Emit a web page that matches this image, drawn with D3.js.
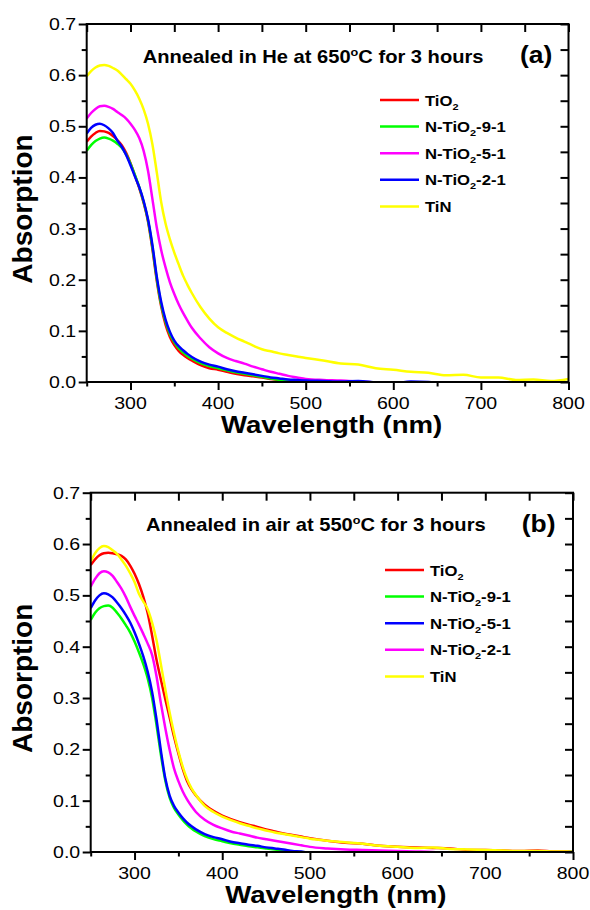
<!DOCTYPE html>
<html lang="en">
<head>
<meta charset="UTF-8">
<title>Absorption spectra of TiO2 / N-TiO2 / TiN</title>
<script src="https://d3js.org/d3.v7.min.js"></script>
<style>
  body { margin: 0; background: #fff; }
  svg { display: block; background: #fff; }
  text { font-family: "Liberation Sans", Arial, sans-serif; fill: #000; }
  .tick-label { font-size: 17px; }
  .axis-title { font-size: 24px; font-weight: bold; }
  .y-title { font-size: 28px; font-weight: bold; }
  .note { font-size: 17.5px; font-weight: bold; }
  .tag { font-size: 23px; font-weight: bold; }
  .legend { font-size: 14.5px; font-weight: bold; }
  .curve { fill: none; stroke-width: 2.5px; stroke-linejoin: round; }
  .tick line { stroke: #000; stroke-width: 2px; }
</style>
</head>
<body>
<svg width="590" height="910"></svg>
<script>
// wavelength grid (nm) shared by all spectra
const wavelengths = [
  250, 255, 260, 265, 270, 275, 280, 285, 290, 295, 300, 305, 310, 315, 320, 325, 330, 335, 340, 345, 350, 355, 360, 365, 370,
  380, 390, 400, 410, 420, 430, 440, 450, 460, 470, 480, 490, 500,
  520, 540, 560, 580, 600, 620, 640, 660, 680, 700, 720, 740, 760, 780, 800
];

const xMajor = [300, 400, 500, 600, 700, 800];
const xMinor = [250, 350, 450, 550, 650, 750];
const yMajor = [0, 0.1, 0.2, 0.3, 0.4, 0.5, 0.6, 0.7];
const yMinor = [0.05, 0.15, 0.25, 0.35, 0.45, 0.55, 0.65];

// (a) annealed in He at 650 C
const heTiO2 = [
  0.470, 0.480, 0.487, 0.491, 0.490, 0.487, 0.481, 0.473, 0.463, 0.448, 0.428, 0.404, 0.379, 0.350, 0.314, 0.260, 0.198, 0.148, 0.112, 0.088, 0.072, 0.061, 0.053, 0.047, 0.042,
  0.033, 0.027, 0.024, 0.020, 0.016, 0.013, 0.011, 0.009, 0.006, 0.004, 0.002, 0.001, -0.003,
  -0.003, -0.003, -0.003, -0.003, -0.003, -0.003, -0.003, -0.003, -0.003, -0.003, -0.003, -0.003, -0.003, -0.003, -0.003
];
const heN91 = [
  0.452, 0.463, 0.471, 0.476, 0.478, 0.476, 0.472, 0.466, 0.458, 0.445, 0.427, 0.405, 0.381, 0.352, 0.316, 0.264, 0.202, 0.152, 0.118, 0.094, 0.078, 0.066, 0.058, 0.051, 0.046,
  0.037, 0.031, 0.027, 0.023, 0.019, 0.016, 0.013, 0.010, 0.007, 0.004, 0.002, 0.000, -0.003,
  -0.003, -0.003, -0.003, -0.003, -0.003, -0.003, -0.003, -0.003, -0.003, -0.003, -0.003, -0.003, -0.003, -0.003, -0.003
];
const heN51 = [
  0.515, 0.526, 0.534, 0.539, 0.540, 0.538, 0.534, 0.528, 0.522, 0.515, 0.505, 0.493, 0.477, 0.452, 0.413, 0.358, 0.302, 0.258, 0.224, 0.195, 0.172, 0.152, 0.135, 0.120, 0.106,
  0.085, 0.068, 0.056, 0.047, 0.041, 0.036, 0.030, 0.025, 0.020, 0.016, 0.012, 0.009, 0.006,
  0.004, 0.003, 0.001, -0.001, -0.003, -0.003, -0.003, -0.003, -0.003, -0.003, -0.003, -0.003, -0.003, -0.003, -0.003
];
const heN21 = [
  0.486, 0.497, 0.503, 0.505, 0.502, 0.496, 0.487, 0.472, 0.460, 0.444, 0.424, 0.402, 0.381, 0.354, 0.318, 0.268, 0.206, 0.157, 0.122, 0.098, 0.081, 0.070, 0.062, 0.055, 0.049,
  0.040, 0.034, 0.030, 0.025, 0.021, 0.018, 0.015, 0.012, 0.009, 0.007, 0.005, 0.004, 0.003,
  0.002, 0.001, 0.002, -0.001, -0.003, 0.001, 0.000, -0.003, -0.003, -0.003, -0.003, -0.003, -0.003, -0.003, -0.003
];
const heTiN = [
  0.598, 0.608, 0.615, 0.619, 0.620, 0.618, 0.614, 0.609, 0.601, 0.592, 0.583, 0.570, 0.554, 0.533, 0.505, 0.465, 0.410, 0.352, 0.310, 0.279, 0.253, 0.230, 0.208, 0.190, 0.174,
  0.146, 0.124, 0.107, 0.096, 0.087, 0.079, 0.071, 0.064, 0.060, 0.056, 0.053, 0.050, 0.047,
  0.042, 0.036, 0.034, 0.027, 0.024, 0.020, 0.018, 0.013, 0.014, 0.009, 0.009, 0.004, 0.005, 0.002, 0.006
];

// (b) annealed in air at 550 C
const airTiO2 = [
  0.559, 0.570, 0.578, 0.582, 0.583, 0.582, 0.580, 0.577, 0.570, 0.558, 0.542, 0.522, 0.497, 0.465, 0.422, 0.375, 0.336, 0.298, 0.262, 0.225, 0.192, 0.162, 0.138, 0.122, 0.110,
  0.092, 0.080, 0.071, 0.064, 0.058, 0.053, 0.049, 0.044, 0.040, 0.036, 0.033, 0.030, 0.027,
  0.022, 0.018, 0.016, 0.012, 0.010, 0.009, 0.008, 0.007, 0.004, 0.004, 0.003, 0.002, 0.003, 0.001, 0.001
];
const airN91 = [
  0.452, 0.466, 0.475, 0.479, 0.480, 0.476, 0.466, 0.455, 0.442, 0.428, 0.410, 0.389, 0.366, 0.338, 0.300, 0.248, 0.190, 0.140, 0.106, 0.086, 0.073, 0.062, 0.053, 0.046, 0.040,
  0.031, 0.025, 0.021, 0.017, 0.014, 0.011, 0.009, 0.007, 0.005, 0.003, 0.001, 0.000, -0.003,
  -0.003, -0.003, -0.003, -0.003, -0.003, -0.003, -0.003, -0.003, -0.003, -0.003, -0.003, -0.003, -0.003, -0.003, -0.003
];
const airN51 = [
  0.475, 0.490, 0.500, 0.504, 0.502, 0.496, 0.486, 0.475, 0.462, 0.447, 0.428, 0.406, 0.381, 0.351, 0.312, 0.259, 0.198, 0.144, 0.110, 0.090, 0.077, 0.066, 0.057, 0.050, 0.044,
  0.035, 0.029, 0.025, 0.020, 0.017, 0.014, 0.012, 0.009, 0.007, 0.005, 0.002, 0.001, -0.002,
  -0.003, -0.003, -0.003, -0.003, -0.003, -0.003, -0.003, -0.003, -0.003, -0.003, -0.003, -0.003, -0.003, -0.003, 0.002
];
const airN21 = [
  0.517, 0.532, 0.543, 0.547, 0.545, 0.538, 0.526, 0.513, 0.497, 0.478, 0.460, 0.443, 0.425, 0.406, 0.384, 0.343, 0.290, 0.242, 0.199, 0.163, 0.138, 0.118, 0.102, 0.089, 0.078,
  0.063, 0.053, 0.046, 0.040, 0.036, 0.032, 0.028, 0.025, 0.022, 0.019, 0.016, 0.013, 0.010,
  0.007, 0.005, 0.004, 0.003, 0.002, 0.001, 0.000, -0.003, -0.003, -0.003, -0.003, -0.003, -0.003, -0.003, -0.003
];
const airTiN = [
  0.566, 0.582, 0.592, 0.596, 0.594, 0.588, 0.581, 0.570, 0.558, 0.543, 0.526, 0.503, 0.488, 0.473, 0.447, 0.413, 0.366, 0.318, 0.272, 0.232, 0.196, 0.166, 0.142, 0.124, 0.111,
  0.090, 0.078, 0.069, 0.062, 0.056, 0.051, 0.046, 0.042, 0.038, 0.035, 0.032, 0.029, 0.026,
  0.022, 0.019, 0.016, 0.012, 0.010, 0.008, 0.009, 0.006, 0.005, 0.004, 0.003, 0.002, 0.002, 0.001, 0.001
];

const colors = { "TiO2": "#ff0000", "N-TiO2-9-1": "#00ff00", "N-TiO2-5-1": "#ff00ff", "N-TiO2-2-1": "#0000ff", "TiN": "#ffff00" };
const colorsB = { "TiO2": "#ff0000", "N-TiO2-9-1": "#00ff00", "N-TiO2-5-1": "#0000ff", "N-TiO2-2-1": "#ff00ff", "TiN": "#ffff00" };

const SX = 1.15; // horizontal stretch of the original figure's lettering

const panels = [
  {
    id: "a", left: 86.7, right: 568.5, top: 24, bottom: 382,
    note: ["Annealed in He at 650", "C for 3 hours"], noteX: 142.7, noteY: 62.7,
    tag: "(a)", tagX: 520, tagY: 62.5,
    legX: 380, legY: 100,
    color: colors,
    data: { "TiO2": heTiO2, "N-TiO2-9-1": heN91, "N-TiO2-5-1": heN51, "N-TiO2-2-1": heN21, "TiN": heTiN },
    order: ["TiO2", "N-TiO2-9-1", "N-TiO2-5-1", "N-TiO2-2-1", "TiN"]
  },
  {
    id: "b", left: 90.7, right: 573, top: 492.7, bottom: 852,
    note: ["Annealed in air at 550", "C for 3 hours"], noteX: 146, noteY: 530.7,
    tag: "(b)", tagX: 521.7, tagY: 531.5,
    legX: 385, legY: 570,
    color: colorsB,
    data: { "TiO2": airTiO2, "N-TiO2-9-1": airN91, "N-TiO2-5-1": airN51, "N-TiO2-2-1": airN21, "TiN": airTiN },
    order: ["TiO2", "N-TiO2-9-1", "N-TiO2-5-1", "N-TiO2-2-1", "TiN"]
  }
];

const svg = d3.select("svg");

function stretched(g, x, y, cls, anchor) {
  return g.append("text")
    .attr("class", cls)
    .attr("text-anchor", anchor || "start")
    .attr("transform", `translate(${x},${y}) scale(${SX},1)`);
}

// write a label, putting the 2 of TiO2 as a subscript
function chemLabel(t, label) {
  const parts = label.split("O2");
  if (parts.length === 1) { t.append("tspan").text(label); return; }
  t.append("tspan").text(parts[0] + "O");
  t.append("tspan").attr("font-size", "9.5px").attr("dy", 4).text("2");
  t.append("tspan").attr("dy", -4).text(parts[1]);
}

panels.forEach(p => {
  const g = svg.append("g");
  const x = d3.scaleLinear().domain([250, 800]).range([p.left, p.right]);
  const y = d3.scaleLinear().domain([0, 0.7]).range([p.bottom, p.top]);

  g.append("clipPath").attr("id", "clip-" + p.id)
    .append("rect")
    .attr("x", p.left).attr("y", p.top)
    .attr("width", p.right - p.left).attr("height", p.bottom - p.top);

  // spectra
  const line = d3.line()
    .x((d, i) => x(wavelengths[i]))
    .y(d => y(d))
    .curve(d3.curveMonotoneX);

  const curves = g.append("g").attr("clip-path", `url(#clip-${p.id})`);
  p.order.forEach(name => {
    curves.append("path")
      .datum(p.data[name])
      .attr("class", "curve")
      .attr("stroke", p.color[name])
      .attr("d", line);
  });

  // ticks: out on bottom/left, in on top/right
  const addAxis = (axis, tx, ty) => {
    const a = g.append("g").attr("transform", `translate(${tx},${ty})`).call(axis);
    a.select(".domain").remove();
    a.selectAll("text").remove();
  };
  addAxis(d3.axisBottom(x).tickValues(xMajor).tickSize(8), 0, p.bottom);
  addAxis(d3.axisBottom(x).tickValues(xMinor).tickSize(4.5), 0, p.bottom);
  addAxis(d3.axisBottom(x).tickValues(xMajor.concat(xMinor)).tickSize(8), 0, p.top);
  addAxis(d3.axisLeft(y).tickValues(yMajor).tickSize(8), p.left, 0);
  addAxis(d3.axisLeft(y).tickValues(yMinor).tickSize(5), p.left, 0);
  addAxis(d3.axisLeft(y).tickValues(yMajor.concat(yMinor)).tickSize(8), p.right, 0);

  // frame
  g.append("rect")
    .attr("x", p.left).attr("y", p.top)
    .attr("width", p.right - p.left).attr("height", p.bottom - p.top)
    .attr("fill", "none").attr("stroke", "#000").attr("stroke-width", 2);

  // tick labels
  xMajor.forEach(v => {
    stretched(g, x(v), p.bottom + 27, "tick-label", "middle").text(v);
  });
  yMajor.forEach(v => {
    stretched(g, p.left - 10.5, y(v) + 6, "tick-label", "end").text(d3.format(".1f")(v));
  });

  // axis titles
  stretched(g, (p.left + p.right) / 2 + 4, p.bottom + 51, "axis-title", "middle").text("Wavelength (nm)");
  g.append("text")
    .attr("class", "y-title")
    .attr("text-anchor", "middle")
    .attr("transform", `translate(31.5,${(p.top + p.bottom) / 2 + 6}) rotate(-90)`)
    .text("Absorption");

  // annotation and panel tag
  const note = stretched(g, p.noteX, p.noteY, "note");
  note.append("tspan").text(p.note[0]);
  note.append("tspan").attr("font-size", "11px").attr("dy", -7).text("o");
  note.append("tspan").attr("dy", 7).text(p.note[1]);
  stretched(g, p.tagX, p.tagY, "tag").text(p.tag);

  // legend
  p.order.forEach((name, i) => {
    const ly = p.legY + i * 26.6;
    g.append("line")
      .attr("x1", p.legX).attr("x2", p.legX + 39)
      .attr("y1", ly).attr("y2", ly)
      .attr("stroke", p.color[name]).attr("stroke-width", 2.5);
    chemLabel(stretched(g, p.legX + 45, ly + 5.5, "legend"), name);
  });
});
</script>
</body>
</html>
